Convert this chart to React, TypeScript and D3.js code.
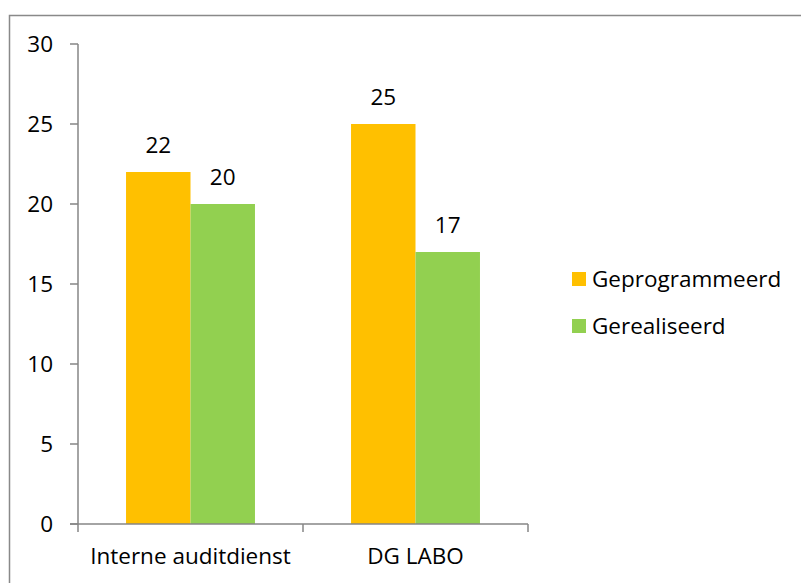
import React, { useRef, useEffect } from 'react';
import * as d3 from 'd3';

const categories = ['Interne auditdienst', 'DG LABO'];
const seriesNames = ['Geprogrammeerd', 'Gerealiseerd'];
const geprogrammeerd = [22, 25];
const gerealiseerd = [20, 17];
const yTicks = [0, 5, 10, 15, 20, 25, 30];
const colors = ['#FFC000', '#92D050'];

const W = 801;
const H = 583;
const FONT = "'Open Sans', sans-serif";
const FS = 22.5;

const App = () => {
  const ref = useRef<SVGSVGElement>(null);

  useEffect(() => {
    const svg = d3.select(ref.current);
    svg.selectAll('*').remove();

    // chart border (right/bottom edges run off the picture)
    svg.append('rect')
      .attr('x', 9.5).attr('y', 15.5)
      .attr('width', W).attr('height', H)
      .attr('fill', 'white')
      .attr('stroke', '#898989')
      .attr('stroke-width', 1.5);

    const left = 78, right = 528, top = 44, bottom = 524;

    const x = d3.scaleBand().domain(categories).range([left, right]).paddingInner(0).paddingOuter(0);
    const inner = d3.scaleBand().domain(seriesNames).range([0, x.bandwidth()]).paddingOuter(0.745).paddingInner(0);
    const y = d3.scaleLinear().domain([0, 30]).range([bottom, top]);

    const data = seriesNames.map((name, i) => ({
      name,
      values: i === 0 ? geprogrammeerd : gerealiseerd,
    }));

    // bars + value labels
    data.forEach((s, si) => {
      s.values.forEach((v, ci) => {
        const bx = (x(categories[ci]) as number) + (inner(s.name) as number);
        svg.append('rect')
          .attr('x', bx)
          .attr('y', y(v))
          .attr('width', inner.bandwidth())
          .attr('height', y(0) - y(v))
          .attr('fill', colors[si]);
        svg.append('text')
          .attr('x', bx + inner.bandwidth() / 2)
          .attr('y', y(v) - 19)
          .attr('text-anchor', 'middle')
          .attr('font-family', FONT)
          .attr('font-size', FS)
          .attr('fill', '#000')
          .text(v);
      });
    });

    const axisColor = '#868686';

    // y axis
    svg.append('line')
      .attr('x1', left).attr('x2', left)
      .attr('y1', top).attr('y2', bottom)
      .attr('stroke', axisColor).attr('stroke-width', 1.5);
    yTicks.forEach(t => {
      svg.append('line')
        .attr('x1', left - 8).attr('x2', left)
        .attr('y1', y(t)).attr('y2', y(t))
        .attr('stroke', axisColor).attr('stroke-width', 1.5);
      svg.append('text')
        .attr('x', 53)
        .attr('y', y(t))
        .attr('dy', '0.35em')
        .attr('text-anchor', 'end')
        .attr('font-family', FONT)
        .attr('font-size', FS)
        .attr('fill', '#000')
        .text(t);
    });

    // x axis
    svg.append('line')
      .attr('x1', left - 8).attr('x2', right)
      .attr('y1', bottom).attr('y2', bottom)
      .attr('stroke', axisColor).attr('stroke-width', 1.5);
    const bounds = [left, ...categories.map(c => (x(c) as number) + x.bandwidth())];
    bounds.forEach(b => {
      svg.append('line')
        .attr('x1', b).attr('x2', b)
        .attr('y1', bottom).attr('y2', bottom + 8)
        .attr('stroke', axisColor).attr('stroke-width', 1.5);
    });
    categories.forEach(c => {
      svg.append('text')
        .attr('x', (x(c) as number) + x.bandwidth() / 2)
        .attr('y', 564)
        .attr('text-anchor', 'middle')
        .attr('font-family', FONT)
        .attr('font-size', FS)
        .attr('fill', '#000')
        .text(c);
    });

    // legend
    seriesNames.forEach((name, i) => {
      const ly = 272 + i * 47;
      svg.append('rect')
        .attr('x', 572).attr('y', ly)
        .attr('width', 14).attr('height', 14)
        .attr('fill', colors[i]);
      svg.append('text')
        .attr('x', 592)
        .attr('y', ly + 15)
        .attr('font-family', FONT)
        .attr('font-size', FS)
        .attr('fill', '#000')
        .text(name);
    });
  }, []);

  return (
    <svg
      ref={ref}
      width={W}
      height={H}
      style={{ position: 'absolute', left: 0, top: 0, background: 'white' }}
    />
  );
};

export default App;
